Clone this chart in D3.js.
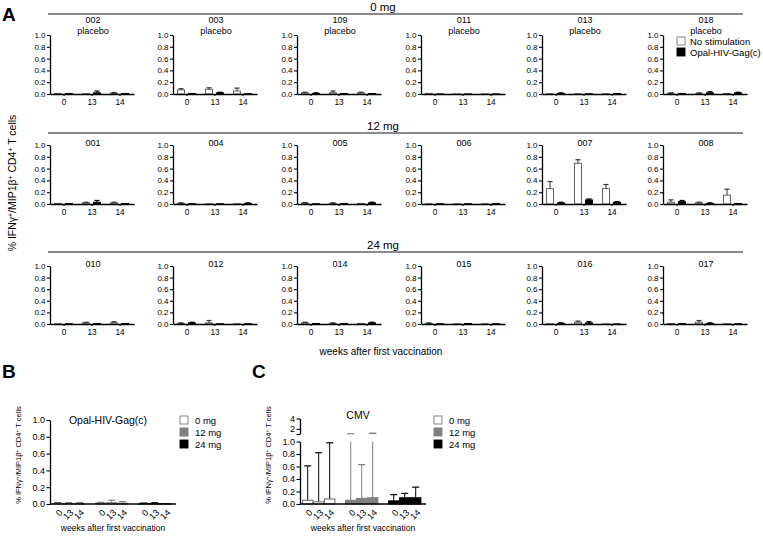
<!DOCTYPE html>
<html><head><meta charset="utf-8">
<script src="https://cdn.jsdelivr.net/npm/d3@7"></script>
<style>body{margin:0;background:#fff}svg{display:block;font-family:"Liberation Sans",Arial,sans-serif}</style>
</head><body><svg id="c" width="763" height="536"></svg>
<script>
// ---------- DATA ----------
const weeks = ["0","13","14"];
const doseGroups = ["0 mg","12 mg","24 mg"];
const subjects = [
  ["002","003","109","011","013","018"],
  ["001","004","005","006","007","008"],
  ["010","012","014","015","016","017"]
];
const placeboRow = [true,false,false];
const seriesA = ["No stimulation","Opal-HIV-Gag(c)"];
const yTicksA = [0,0.2,0.4,0.6,0.8,1.0];
// per subject, weeks 0/13/14 (order as in subjects, row by row)
const noStimMean = [
  [0.01,0.005,0.015],[0.07,0.08,0.05],[0.02,0.02,0.02],[0.01,0.003,0.003],[0.005,0.005,0.005],[0.01,0.01,0.01],
  [0.01,0.02,0.02],[0.01,0.005,0.005],[0.015,0.01,0.01],[0.005,0.005,0.005],[0.26,0.69,0.26],[0.03,0.02,0.15],
  [0.005,0.02,0.02],[0.01,0.02,0.005],[0.02,0.01,0.01],[0.01,0.005,0.005],[0.005,0.03,0.003],[0.01,0.03,0.005]
];
const noStimErr = [
  [0.005,0.003,0.01],[0.02,0.025,0.05],[0.01,0.03,0.01],[0.003,0,0],[0.003,0,0],[0.01,0.01,0.005],
  [0.005,0.01,0.01],[0.01,0,0],[0.01,0.01,0.005],[0.003,0.003,0.003],[0.12,0.06,0.07],[0.04,0.01,0.10],
  [0.003,0.01,0.02],[0.01,0.04,0.003],[0.01,0.01,0.005],[0.01,0.003,0.003],[0.003,0.02,0],[0.005,0.03,0.003]
];
const gagMean = [
  [0.01,0.02,0.01],[0.01,0.02,0.005],[0.01,0.01,0.01],[0.002,0.002,0.002],[0.01,0.005,0.01],[0.01,0.02,0.02],
  [0.01,0.03,0.01],[0.005,0.005,0.01],[0.005,0.01,0.02],[0.005,0.005,0.01],[0.02,0.07,0.03],[0.04,0.01,0.01],
  [0.005,0.01,0.01],[0.02,0.005,0.005],[0.01,0.01,0.02],[0.005,0.01,0.005],[0.01,0.02,0.002],[0.01,0.01,0.005]
];
const gagErr = [
  [0.003,0.03,0.003],[0.005,0.01,0],[0.01,0.005,0.005],[0,0,0],[0.01,0,0.005],[0.005,0.02,0.01],
  [0.005,0.03,0.005],[0,0,0.01],[0.005,0.005,0.01],[0,0,0.005],[0.01,0.015,0.01],[0.02,0.01,0.005],
  [0.003,0.005,0.005],[0.01,0,0],[0.005,0.005,0.01],[0,0.005,0],[0.01,0.02,0],[0.005,0.01,0]
];
// Panels B and C: dose groups x weeks
const dosesBC = ["0 mg","12 mg","24 mg"];
const doseColors = ["#ffffff","#7f7f7f","#000000"];
const gagDoseMean = [[0.003,0.003,0.003],[0.01,0.015,0.01],[0.003,0.005,0.003]];
const gagDoseErr  = [[0.01,0.008,0.008],[0.01,0.03,0.02],[0.008,0.01,0.005]];
const cmvMean = [[0.06,0.035,0.08],[0.06,0.09,0.10],[0.05,0.10,0.10]];
const cmvErr  = [[0.55,0.785,0.90],[0.99,0.54,1.02],[0.10,0.07,0.17]];
const cmvUpperTicks = [1,2,4];

// ---------- DRAW ----------
const svg = d3.select("#c");
const FONT = '"Liberation Sans",Arial,sans-serif';

function ylabel(g, x, y, size){
  const t = g.append("text").attr("transform",`translate(${x},${y}) rotate(-90)`)
    .attr("text-anchor","middle").attr("font-size",size);
  const parts = [["% IFNγ",0],["+",1],["/MIP1β",0],["+",1],[" CD4",0],["+",1],[" T cells",0]];
  parts.forEach(p=>{
    const ts = t.append("tspan").text(p[0]);
    if(p[1]){ ts.attr("font-size",size*0.65).attr("baseline-shift","super"); }
  });
}
function styleAxis(g, fs){
  g.selectAll("path.domain").attr("stroke","#000").attr("stroke-width",1.3);
  g.selectAll(".tick line").attr("stroke","#000").attr("stroke-width",1.1);
  g.selectAll(".tick text").attr("font-family",FONT).attr("font-size",fs).attr("fill","#000");
}
function errBar(g, cx, y0, y1, color, cap){
  if (Math.abs(y0-y1) < 0.5) return;
  g.append("line").attr("x1",cx).attr("x2",cx).attr("y1",y0).attr("y2",y1).attr("stroke",color).attr("stroke-width",1);
  g.append("line").attr("x1",cx-cap/2).attr("x2",cx+cap/2).attr("y1",y1).attr("y2",y1).attr("stroke",color).attr("stroke-width",1.2);
}

// Panel letters
svg.append("text").attr("x",2).attr("y",21).attr("font-size",19).attr("font-weight","bold").text("A");
svg.append("text").attr("x",2).attr("y",378).attr("font-size",19).attr("font-weight","bold").text("B");
svg.append("text").attr("x",252).attr("y",378).attr("font-size",19).attr("font-weight","bold").text("C");

// Panel A
const colX = [50,173,297,421,542,663];
const plotW = 84;
const rowTop = [35,145,266], rowBot = [94,204,324];
const lineY = [14,133,252];
const gA = svg.append("g");

doseGroups.forEach((grp,r)=>{
  gA.append("line").attr("x1",48).attr("x2",743).attr("y1",lineY[r]).attr("y2",lineY[r])
    .attr("stroke","#8a8a8a").attr("stroke-width",1.8);
  gA.append("text").attr("x",383).attr("y",lineY[r]-3).attr("text-anchor","middle")
    .attr("font-size",11.5).text(grp);
  subjects[r].forEach((s,c)=>{
    const i = r*6+c;
    const x0 = colX[c];
    const x = d3.scaleBand().domain(weeks).range([x0, x0+plotW]);
    const y = d3.scaleLinear().domain([0,1]).range([rowBot[r], rowTop[r]]);
    const sub = gA.append("g");
    weeks.forEach((w,k)=>{
      const cx = x(w) + x.bandwidth()/2;
      const m1 = noStimMean[i][k], e1 = noStimErr[i][k];
      const m2 = gagMean[i][k], e2 = gagErr[i][k];
      sub.append("rect").attr("x",cx-9.5).attr("width",7).attr("y",y(m1)).attr("height",y(0)-y(m1))
        .attr("fill","#fff").attr("stroke","#555").attr("stroke-width",0.9);
      errBar(sub, cx-6, y(m1), y(m1+e1), "#333", 5);
      sub.append("rect").attr("x",cx+1.5).attr("width",7).attr("y",y(m2)).attr("height",y(0)-y(m2))
        .attr("fill","#000").attr("stroke","#000").attr("stroke-width",0.9);
      errBar(sub, cx+5, y(m2), y(m2+e2), "#000", 5);
    });
    const ay = sub.append("g").attr("transform",`translate(${x0},0)`)
      .call(d3.axisLeft(y).tickValues(yTicksA).tickFormat(d3.format(".1f")).tickSize(3).tickSizeOuter(0).tickPadding(1.5));
    styleAxis(ay, 8);
    const ax = sub.append("g").attr("transform",`translate(0,${rowBot[r]})`)
      .call(d3.axisBottom(x).tickSize(2).tickSizeOuter(0).tickPadding(3));
    styleAxis(ax, 8.3);
    const tcx = x0 + 43;
    if (placeboRow[r]) {
      sub.append("text").attr("x",tcx).attr("y",23).attr("text-anchor","middle").attr("font-size",9).text(s);
      sub.append("text").attr("x",tcx).attr("y",34).attr("text-anchor","middle").attr("font-size",9).text("placebo");
    } else {
      sub.append("text").attr("x",tcx).attr("y",rowTop[r]+1).attr("text-anchor","middle").attr("font-size",9).text(s);
    }
  });
});
seriesA.forEach((name,k)=>{
  gA.append("rect").attr("x",677).attr("y",37+k*11).attr("width",8).attr("height",8)
    .attr("fill",k? "#000":"#fff").attr("stroke",k?"#000":"#777").attr("stroke-width",0.9);
  gA.append("text").attr("x",690).attr("y",44.5+k*11).attr("font-size",9.5).text(name);
});
ylabel(gA, 16, 183, 10.5);
gA.append("text").attr("x",381).attr("y",355).attr("text-anchor","middle").attr("font-size",10).text("weeks after first vaccination");

// Panels B & C
function dosePanel(ax0, title, means, errs, broken, legX){
  const g = svg.append("g");
  const yL = d3.scaleLinear().domain([0,1]).range([504, broken?441.5:420]);
  const x0 = d3.scaleBand().domain(dosesBC).range([ax0, ax0+123.4]).paddingInner(0.247).paddingOuter(0.058);
  const xi = d3.scaleBand().domain(weeks).range([0, x0.bandwidth()]).paddingInner(0.05);
  let yU = null;
  if (broken) yU = d3.scaleLinear().domain([1,4]).range([434,418.5]);
  dosesBC.forEach((d,di)=>{
    weeks.forEach((w,k)=>{
      const bx = x0(d)+xi(w), bw = xi.bandwidth();
      const m = means[di][k], e = errs[di][k];
      const col = doseColors[di];
      const strokeC = di===0 ? "#666" : col;
      const errC = di===1 ? "#7f7f7f" : "#000";
      const cx = bx + bw/2;
      const top = m+e;
      if (top <= 1 || !broken) {
        errBar(g, cx, yL(m), yL(top), errC, 7);
      } else {
        g.append("line").attr("x1",cx).attr("x2",cx).attr("y1",yL(m)).attr("y2",yL(1)).attr("stroke",errC).attr("stroke-width",1);
        errBar(g, cx, yU(1), yU(top), errC, 7);
        g.append("line").attr("x1",cx-3.5).attr("x2",cx+3.5).attr("y1",yU(top)).attr("y2",yU(top)).attr("stroke",errC).attr("stroke-width",1.2);
      }
      g.append("rect").attr("x",bx).attr("width",bw).attr("y",yL(m)).attr("height",yL(0)-yL(m))
        .attr("fill",col).attr("stroke",strokeC).attr("stroke-width",1);
    });
    const axb = g.append("g").attr("transform",`translate(${x0(d)},504)`)
      .call(d3.axisBottom(xi).tickSize(0).tickPadding(0));
    axb.select("path.domain").remove();
    styleAxis(axb, 9);
    axb.selectAll(".tick text").attr("text-anchor","end").attr("x",0).attr("y",0).attr("dy","0.35em")
      .attr("transform","translate(3,7) rotate(-45)");
  });
  g.append("line").attr("x1",ax0).attr("x2",ax0+126).attr("y1",504).attr("y2",504).attr("stroke","#000").attr("stroke-width",1.3);
  const ay = g.append("g").attr("transform",`translate(${ax0},0)`)
    .call(d3.axisLeft(yL).tickValues(yTicksA).tickFormat(d3.format(".1f")).tickSize(3.5).tickSizeOuter(0).tickPadding(1.5));
  styleAxis(ay, 9);
  if (broken) {
    const au = g.append("g").attr("transform",`translate(${ax0},0)`)
      .call(d3.axisLeft(yU).tickValues(cmvUpperTicks).tickFormat(v=> v===1?"":String(v)).tickSize(3.5).tickSizeOuter(0).tickPadding(1.5));
    styleAxis(au, 9);
  }
  g.append("text").attr("x",ax0+58).attr("y",broken?419:424).attr("text-anchor","middle").attr("font-size",10.5).text(title);
  ylabel(g, ax0-29, 455, 7.5);
  g.append("text").attr("x",ax0+63).attr("y",531).attr("text-anchor","middle").attr("font-size",8.5).text("weeks after first vaccination");
  dosesBC.forEach((d,di)=>{
    g.append("rect").attr("x",legX).attr("y",416+di*12).attr("width",8).attr("height",8)
      .attr("fill",doseColors[di]).attr("stroke",di===0?"#777":doseColors[di]).attr("stroke-width",0.9);
    g.append("text").attr("x",legX+15).attr("y",423.5+di*12).attr("font-size",9.5).text(d);
  });
}
dosePanel(50, "Opal-HIV-Gag(c)", gagDoseMean, gagDoseErr, false, 180);
dosePanel(300, "CMV", cmvMean, cmvErr, true, 434);
</script></body></html>
